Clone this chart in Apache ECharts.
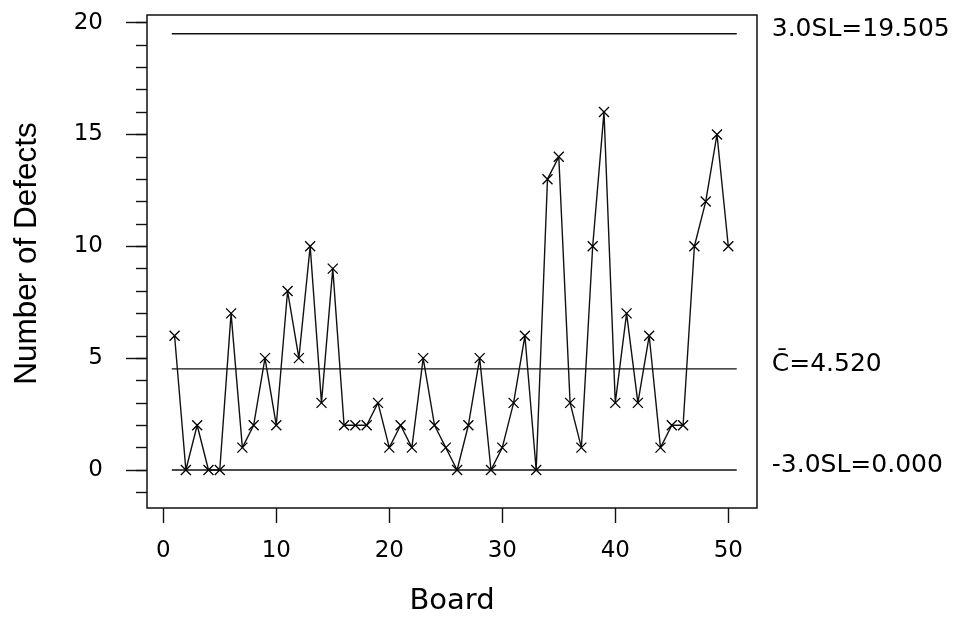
<!DOCTYPE html>
<html>
<head>
<meta charset="utf-8">
<script src="https://cdn.jsdelivr.net/npm/echarts@6/dist/echarts.min.js"></script>
<style>
  html, body { margin: 0; padding: 0; background: #fff; }
  #chart { width: 957px; height: 617px; }
</style>
</head>
<body>
<div id="chart"></div>
<script>
// ---- data ----
const boards = [1,2,3,4,5,6,7,8,9,10,11,12,13,14,15,16,17,18,19,20,21,22,23,24,25,26,27,28,29,30,31,32,33,34,35,36,37,38,39,40,41,42,43,44,45,46,47,48,49,50];
const defects = [6,0,2,0,0,7,1,2,5,2,8,5,10,3,9,2,2,2,3,1,2,1,5,2,1,0,2,5,0,1,3,6,0,13,14,3,1,10,16,3,7,3,6,1,2,2,10,12,15,10];
const limitValues = [19.505, 4.52, 0];
const limitLabels = ['3.0SL=19.505', 'C\u0304=4.520', '-3.0SL=0.000'];
const limitSpan = [0.75, 50.75];
const xTicks = [0, 10, 20, 30, 40, 50];
const yTicks = [0, 5, 10, 15, 20];
const yMinorTicks = [-1, 0, 1, 2, 3, 4, 5, 6, 7, 8, 9, 10, 11, 12, 13, 14, 15, 16, 17, 18, 19, 20];
const xTitle = 'Board';
const yTitle = 'Number of Defects';

const FONT = 'DejaVu Sans';
const INK = '#111';
const chart = echarts.init(document.getElementById('chart'), null, { renderer: 'canvas' });

const limitSeries = limitValues.map((v, i) => ({
  type: 'line',
  data: limitSpan.map(x => [x, v]),
  symbol: 'none',
  silent: true,
  z: 2,
  lineStyle: { color: INK, width: 1.4 },
  endLabel: {
    show: true,
    formatter: () => limitLabels[i],
    distance: 35,
    offset: [0, -4],
    color: '#000',
    fontFamily: FONT,
    fontSize: 25
  }
}));

const yRange = { min: -1.7, max: 20.34 };

chart.setOption({
  animation: false,
  backgroundColor: '#fff',
  grid: {
    left: 147, right: 200, top: 15, bottom: 109,
    show: true, borderColor: INK, borderWidth: 1.5,
    outerBoundsMode: 'none'
  },
  xAxis: {
    type: 'value',
    min: -1.44, max: 52.54,
    name: xTitle,
    nameLocation: 'middle',
    nameGap: 79,
    nameTextStyle: { color: '#000', fontFamily: FONT, fontSize: 29 },
    axisLine: { show: false, onZero: false },
    splitLine: { show: false },
    axisTick: { show: true, length: 15, customValues: xTicks, lineStyle: { color: INK, width: 1.4 } },
    axisLabel: { show: true, customValues: xTicks, margin: 32, color: '#000', fontFamily: FONT, fontSize: 23 }
  },
  yAxis: [
    {
      type: 'value',
      position: 'left',
      min: yRange.min, max: yRange.max,
      name: yTitle,
      nameLocation: 'middle',
      nameRotate: 90,
      nameGap: 104,
      nameTextStyle: { color: '#000', fontFamily: 'Liberation Sans', fontSize: 31.5, padding: [0, 0, 0, 16] },
      axisLine: { show: false, onZero: false },
      splitLine: { show: false },
      axisTick: { show: true, length: 21, customValues: yTicks, lineStyle: { color: INK, width: 1.4 } },
      axisLabel: { show: true, customValues: yTicks, margin: 44, color: '#000', fontFamily: FONT, fontSize: 23 }
    },
    {
      type: 'value',
      position: 'left',
      offset: 0,
      min: yRange.min, max: yRange.max,
      axisLine: { show: false, onZero: false },
      splitLine: { show: false },
      axisTick: { show: true, length: 11, customValues: yMinorTicks, lineStyle: { color: INK, width: 1.4 } },
      axisLabel: { show: false }
    }
  ],
  series: limitSeries.concat([{
    type: 'line',
    data: boards.map((b, i) => [b, defects[i]]),
    z: 3,
    lineStyle: { color: INK, width: 1.4 },
    symbol: 'path://M0,0L10,10M10,0L0,10',
    symbolSize: 10,
    showSymbol: true,
    itemStyle: { color: 'rgba(0,0,0,0)', borderColor: '#000', borderWidth: 1.3 },
    emphasis: { disabled: true }
  }])
});
</script>
</body>
</html>
